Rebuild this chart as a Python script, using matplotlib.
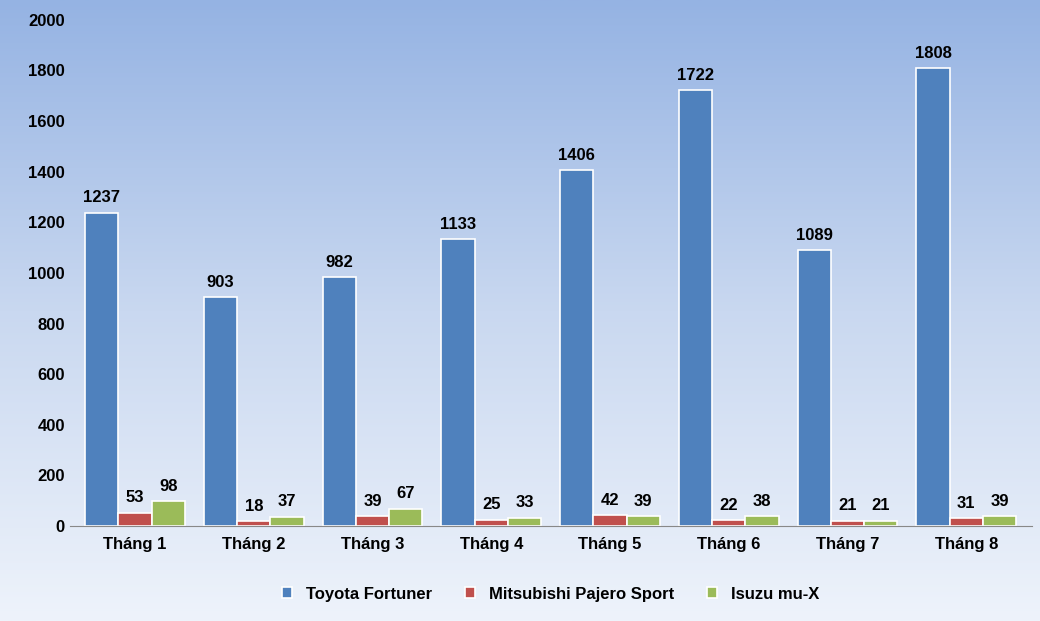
import numpy as np
import matplotlib.pyplot as plt
from matplotlib.colors import LinearSegmentedColormap

months = ["Tháng 1", "Tháng 2", "Tháng 3", "Tháng 4", "Tháng 5", "Tháng 6", "Tháng 7", "Tháng 8"]
fortuner = [1237, 903, 982, 1133, 1406, 1722, 1089, 1808]
pajero = [53, 18, 39, 25, 42, 22, 21, 31]
mux = [98, 37, 67, 33, 39, 38, 21, 39]
series = [("Toyota Fortuner", fortuner, "#4F81BD"),
          ("Mitsubishi Pajero Sport", pajero, "#C0504D"),
          ("Isuzu mu-X", mux, "#9BBB59")]

plt.rcParams['font.family'] = ['Liberation Sans', 'DejaVu Sans']
fig = plt.figure(figsize=[10.4, 6.21], dpi=100)

# gradient background
bg = fig.add_axes([0, 0, 1, 1], zorder=-10)
cmap = LinearSegmentedColormap.from_list("bg", ["#95B3E3", "#C9D8F0", "#EEF3FB"])
bg.imshow(np.linspace(0, 1, 256).reshape(-1, 1), aspect='auto', cmap=cmap, extent=[0, 1, 0, 1])
bg.axis('off')

ax = fig.add_axes([0.067, 0.153, 0.925, 0.815])
ax.patch.set_alpha(0)
x = np.arange(len(months))
w = 0.28
for i, (name, vals, col) in enumerate(series):
    bars = ax.bar(x + (i - 1) * w, vals, w, color=col, edgecolor='white', linewidth=1.2, label=name)
    for b, v in zip(bars, vals):
        ax.text(b.get_x() + b.get_width() / 2, v + 30, str(v), ha='center', va='bottom',
                fontsize=12, fontweight='bold')

ax.set_ylim(0, 2000)
ax.set_yticks(range(0, 2001, 200))
ax.set_xlim(-0.55, len(months) - 0.45)
ax.set_xticks(x)
ax.set_xticklabels(months)
for lab in ax.get_xticklabels() + ax.get_yticklabels():
    lab.set_fontweight('bold')
    lab.set_fontsize(12)
for s in ['top', 'right', 'left']:
    ax.spines[s].set_visible(False)
ax.spines['bottom'].set_color('#888888')
ax.tick_params(axis='y', length=0)
ax.tick_params(axis='x', length=0, pad=8)

leg = ax.legend(loc='upper center', bbox_to_anchor=(0.5, -0.09), ncol=3, frameon=False,
                prop={'weight': 'bold', 'size': 12}, handlelength=0.6, handleheight=0.6,
                columnspacing=2)

fig.savefig("out.png", dpi=100)
